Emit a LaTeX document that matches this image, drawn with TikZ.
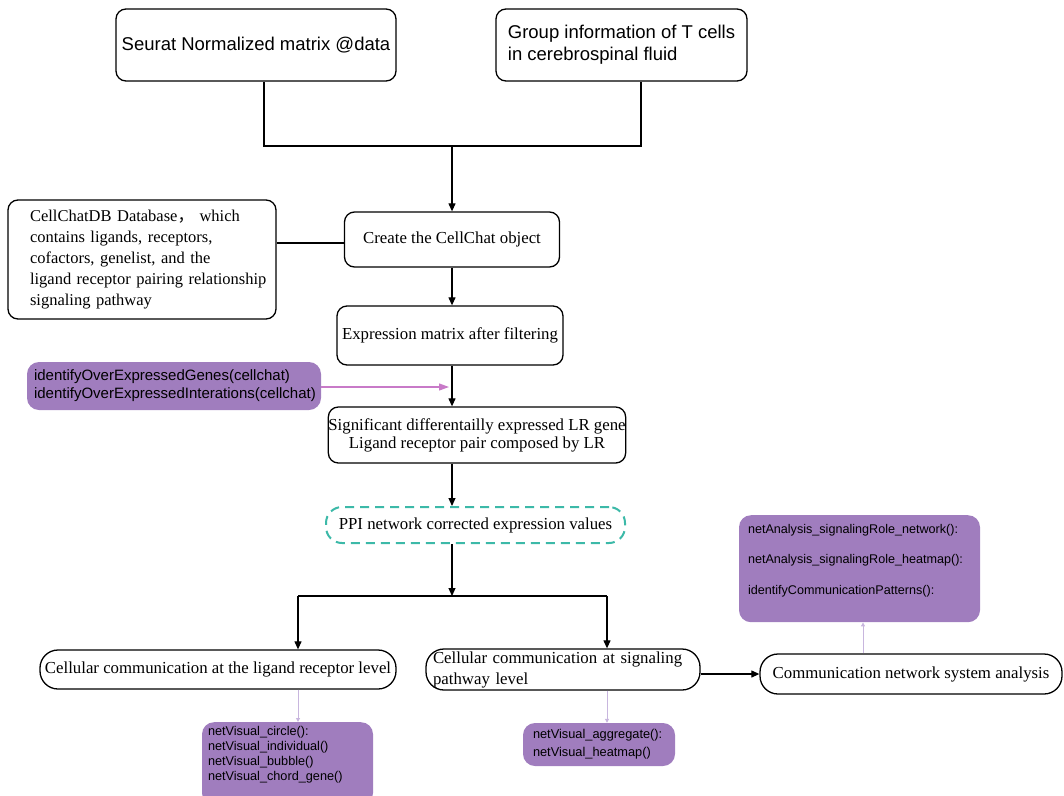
\documentclass[tikz,border=0pt]{standalone}
\usepackage{fontspec}
\setmainfont{Liberation Serif}
\setsansfont{Liberation Sans}
\newfontfamily\cjkfont{Noto Sans CJK SC}
\usetikzlibrary{arrows.meta,calc}
\definecolor{purp}{RGB}{160,125,190}
\definecolor{pinkarrow}{RGB}{200,122,200}
\definecolor{tealdash}{RGB}{60,185,168}
\definecolor{palepurp}{RGB}{200,182,222}
\begin{document}
\begin{tikzpicture}[x=1pt,y=-1pt,
  box/.style={draw=black, line width=1.3pt, rounded corners=10pt, fill=white, inner sep=0pt,
    font=\fontsize{16.8}{21}\selectfont},
  roundbox/.style={box, rounded corners=18pt},
  sbox/.style={box, font=\sffamily\fontsize{18.5}{22}\selectfont},
  pbox/.style={fill=purp, rounded corners=12pt, inner sep=0pt, align=left},
  conn/.style={line width=1.1pt},
  arr/.style={conn, -{Triangle[length=8pt,width=7pt]}},
  pinkarr/.style={draw=pinkarrow, line width=1.2pt, -{Triangle[length=10pt,width=7pt]}},
  palearr/.style={draw=palepurp, line width=1pt, -{Triangle[length=4pt,width=4pt]}},
]
\useasboundingbox (0,0) rectangle (1064,795);
\clip (0,0) rectangle (1064,795);

% top boxes
\node[sbox, minimum width=280pt, minimum height=72pt] (seurat) at (256,45) {Seurat Normalized matrix @data};
\node[sbox, minimum width=251pt, minimum height=72pt, inner xsep=11pt, align=left] (group) at (621.5,45)
  {Group information of T cells\\in cerebrospinal fluid};

% middle column
\node[box, minimum width=215pt, minimum height=55pt] (create) at (452,239.5) {Create the CellChat object};
\node[box, minimum width=268pt, minimum height=119pt, inner xsep=22pt, text width=224pt, align=left,
  font=\fontsize{16.5}{21}\selectfont] (cellchatdb) at (142,259.5)
  {\mbox{CellChatDB Database{\cjkfont ，} which}\\\mbox{contains ligands, receptors,}\\\mbox{cofactors, genelist, and the}\\\mbox{ligand receptor pairing relationship}\\\mbox{signaling pathway}};
\node[box, minimum width=226pt, minimum height=59pt] (expr) at (450,335.5) {Expression matrix after filtering};
\node[pbox, minimum width=294pt, minimum height=48pt, inner xsep=7pt, text width=280pt,
  font=\sffamily\fontsize{15}{18}\selectfont] (purple1) at (174,386)
  {identifyOverExpressedGenes(cellchat)\\identifyOverExpressedInterations(cellchat)};
\node[box, minimum width=296pt, minimum height=56pt, align=center, font=\fontsize{16.8}{18}\selectfont] (sig) at (477,435)
  {Significant differentailly expressed LR gene\\Ligand receptor pair composed by LR};
\node[box, draw=tealdash, line width=2pt, dash pattern=on 9pt off 6pt, rounded corners=16pt,
  minimum width=299pt, minimum height=36pt] (ppi) at (475.5,525) {PPI network corrected expression values};

% lower level
\node[roundbox, minimum width=356pt, minimum height=39pt] (lr) at (218,669.5)
  {Cellular communication at the ligand receptor level};
\node[roundbox, minimum width=274pt, minimum height=41pt, inner xsep=7pt, text width=260pt, align=left,
  font=\fontsize{16.8}{21}\selectfont] (sp) at (563,669.5)
  {Cellular communication at signaling\\pathway level};
\node[roundbox, minimum width=302pt, minimum height=40pt] (comm) at (911,674)
  {Communication network system analysis};

% purple function boxes
\node[pbox, anchor=north, minimum width=241pt, inner xsep=9pt, inner ysep=8pt, text width=223pt,
  text height=10pt, text depth=81pt, font=\sffamily\fontsize{12.6}{30.5}\selectfont] (tr) at (859.5,515)
  {netAnalysis\_signalingRole\_network():\\netAnalysis\_signalingRole\_heatmap():\\identifyCommunicationPatterns():};
\node[pbox, anchor=north, minimum width=171pt, inner xsep=6pt, inner ysep=4.5pt, text width=159pt,
  text height=9pt, text depth=65pt, font=\sffamily\fontsize{12.7}{15}\selectfont] (nv1) at (287.5,722)
  {netVisual\_circle():\\netVisual\_individual()\\netVisual\_bubble()\\netVisual\_chord\_gene()};
\node[pbox, minimum width=152pt, minimum height=43pt, inner xsep=10pt, text width=132pt,
  font=\sffamily\fontsize{12.8}{18}\selectfont] (nv2) at (599,744.5)
  {netVisual\_aggregate():\\netVisual\_heatmap()};

% connectors
\coordinate (jL) at (264,146);
\coordinate (jR) at (641,146);
\coordinate (jM) at (452,146);
\draw[conn] (seurat.south -| jL) -- (jL) -- (jR) -- (group.south -| jR);
\draw[arr] (jM) -- (create.north);
\draw[conn] (cellchatdb.east |- 0,243) -- (create.west |- 0,243);
\draw[arr] (create.south) -- (create.south |- expr.north);
\draw[arr] (create.south |- expr.south) -- (create.south |- sig.north);
\coordinate (pk) at (449,387);
\draw[pinkarr] (purple1.east |- pk) -- (pk);
\draw[arr] (create.south |- sig.south) -- (create.south |- ppi.north);
\coordinate (jB) at (452,596);
\coordinate (bL) at (298,596);
\coordinate (bR) at (607,596);
\draw[arr] (create.south |- ppi.south) -- (jB);
\draw[conn] (bL) -- (bR);
\draw[arr] (bL) -- (bL |- lr.north);
\draw[arr] (bR) -- (bR |- sp.north);
\draw[arr] (sp.east |- comm.west) -- (comm.west);
\coordinate (cx) at (863,640);
\draw[palearr] (lr.south -| bL) -- (nv1.north -| bL);
\draw[palearr] (sp.south -| bR) -- (nv2.north -| bR);
\draw[palearr] (comm.north -| cx) -- (tr.south -| cx);
\end{tikzpicture}
\end{document}
